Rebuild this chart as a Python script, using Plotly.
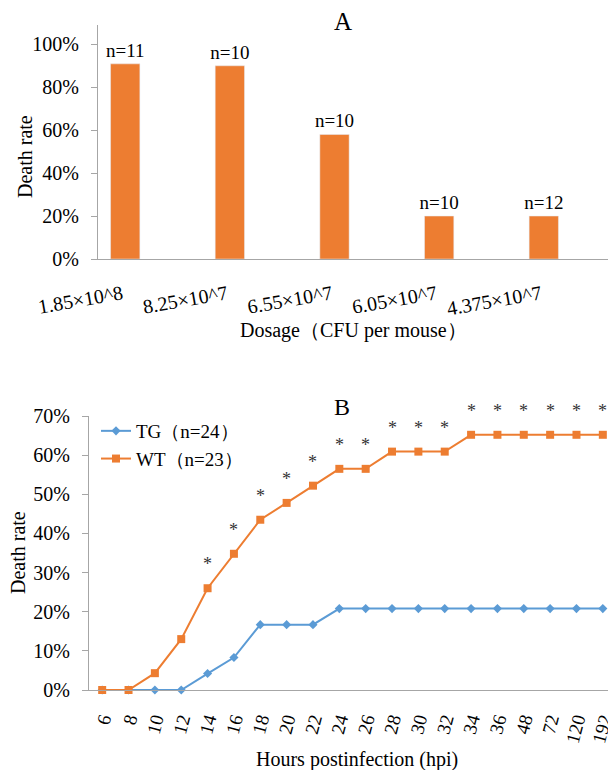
import plotly.graph_objects as go

# ---------------- data ----------------
dosage_labels = ["1.85×10^8", "8.25×10^7", "6.55×10^7", "6.05×10^7", "4.375×10^7"]
death_rate_a = [0.909, 0.90, 0.58, 0.20, 0.20]
n_a = [11, 10, 10, 10, 12]

hours = ["6", "8", "10", "12", "14", "16", "18", "20", "22", "24", "26", "28",
         "30", "32", "34", "36", "48", "72", "120", "192"]
tg_rate = [0, 0, 0, 0, 0.042, 0.083, 0.167, 0.167, 0.167, 0.208, 0.208, 0.208,
           0.208, 0.208, 0.208, 0.208, 0.208, 0.208, 0.208, 0.208]
wt_rate = [0, 0, 0.043, 0.13, 0.26, 0.348, 0.435, 0.478, 0.522, 0.565, 0.565, 0.609,
           0.609, 0.609, 0.652, 0.652, 0.652, 0.652, 0.652, 0.652]
signif = ["", "", "", "", "*", "*", "*", "*", "*", "*", "*", "*",
          "*", "*", "*", "*", "*", "*", "*", "*"]

# the page body has an 8px margin, so the figure is 8px smaller and offset
OFF = 8
W, H = 616 - OFF, 770 - OFF
FONT = "Liberation Serif, Times New Roman, serif"
ORANGE = "#ED7D31"
BLUE = "#5B9BD5"
AXIS = "#A6A6A6"


def fx(x):
    return (x - OFF) / W


def fy(y):
    return 1 - (y - OFF) / H


fig = go.Figure()

# Panel A bars
fig.add_trace(go.Bar(
    x=dosage_labels, y=death_rate_a,
    text=[f"n={n}" for n in n_a], textposition="outside", constraintext="none",
    textfont=dict(family=FONT, size=19, color="black"),
    marker=dict(color=ORANGE), width=0.28, cliponaxis=False,
    showlegend=False, xaxis="x", yaxis="y",
))

# Panel B lines
fig.add_trace(go.Scatter(
    x=hours, y=tg_rate, mode="lines+markers", name="TG（n=24）",
    line=dict(color=BLUE, width=2), marker=dict(symbol="diamond", size=7, color=BLUE),
    xaxis="x2", yaxis="y2", cliponaxis=False,
))
fig.add_trace(go.Scatter(
    x=hours, y=wt_rate, mode="lines+markers", name="WT（n=23）",
    line=dict(color=ORANGE, width=2), marker=dict(symbol="square", size=8, color=ORANGE),
    xaxis="x2", yaxis="y2", cliponaxis=False,
))

annotations = []
for i, (v, s) in enumerate(zip(wt_rate, signif)):
    if s:
        annotations.append(dict(x=i, y=v, xref="x2", yref="y2", text=s, showarrow=False,
                                yshift=24, font=dict(family=FONT, size=18, color="#333")))


def txt(x, y, t, size, angle=0):
    annotations.append(dict(x=fx(x), y=fy(y), xref="paper", yref="paper", text=t,
                            showarrow=False, textangle=angle, xanchor="center", yanchor="middle",
                            font=dict(family=FONT, size=size, color="black")))


txt(343, 21, "A", 25)
txt(342, 407, "B", 24)
txt(25, 157, "Death rate", 20, -90)
txt(18, 553, "Death rate", 20, -90)
txt(353, 330, "Dosage（CFU per mouse）", 20)
txt(357, 759, "Hours postinfection (hpi)", 20)

tickfont = dict(family=FONT, size=20, color="black")

fig.update_layout(
    width=W, height=H, autosize=False,
    margin=dict(l=0, r=0, t=0, b=0),
    paper_bgcolor="white", plot_bgcolor="white",
    annotations=annotations,
    xaxis=dict(domain=[fx(98), 1], anchor="y", type="category", range=[-0.26, 4.69],
               showline=True, linecolor=AXIS, linewidth=1.3, ticks="", showgrid=False,
               tickangle=-10, tickfont=dict(family=FONT, size=20, color="black"),
               ticklabelstandoff=15, ticklabelshift=-3, automargin=False),
    yaxis=dict(domain=[fy(259), fy(25)], anchor="x", range=[0, 1.09],
               tickvals=[0, 0.2, 0.4, 0.6, 0.8, 1.0], tickformat=".0%",
               showline=True, linecolor=AXIS, linewidth=1.3, ticks="outside", ticklen=6,
               tickcolor=AXIS, showgrid=False, zeroline=False, tickfont=tickfont,
               ticklabelstandoff=8, automargin=False),
    xaxis2=dict(domain=[fx(89), 1], anchor="y2", type="category", range=[-0.5, 19.5],
                showline=True, linecolor=AXIS, linewidth=1.3, ticks="", showgrid=False,
                tickangle=-75, tickfont=dict(family=FONT, size=19, color="black"),
                ticklabelstandoff=10, automargin=False),
    yaxis2=dict(domain=[fy(690), fy(416)], anchor="x2", range=[0, 0.70],
                tickvals=[0, 0.1, 0.2, 0.3, 0.4, 0.5, 0.6, 0.7], tickformat=".0%",
                showline=True, linecolor=AXIS, linewidth=1.3, ticks="outside", ticklen=6,
                tickcolor=AXIS, showgrid=False, zeroline=False, tickfont=tickfont,
                ticklabelstandoff=8, automargin=False),
    legend=dict(x=fx(96), y=fy(412), xanchor="left", yanchor="top",
                bgcolor="rgba(0,0,0,0)", font=dict(family=FONT, size=19, color="black"),
                tracegroupgap=0, itemwidth=30),
)

fig.write_html("out.html")
